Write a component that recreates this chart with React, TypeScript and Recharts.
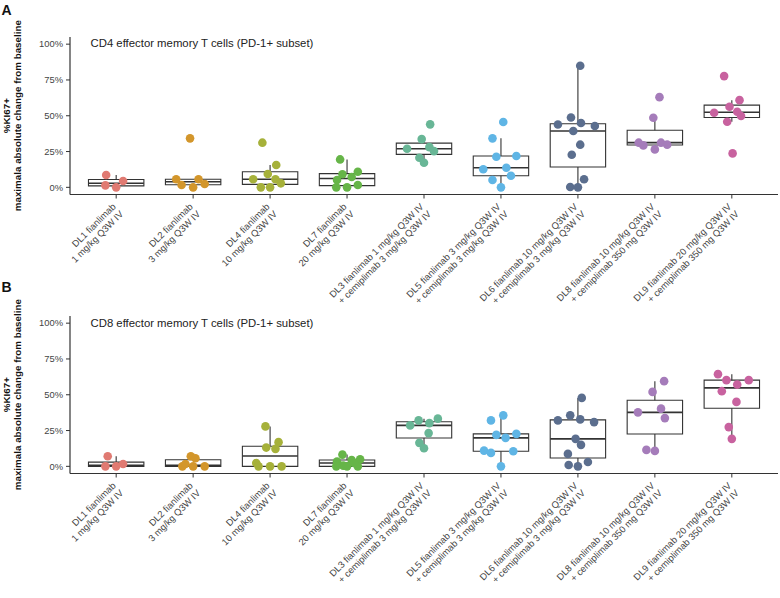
import React from 'react';
import { ComposedChart, Scatter, XAxis, YAxis, ReferenceArea, ReferenceLine } from 'recharts';

const labelLine1 = [
  'DL1 fianlimab', 'DL2 fianlimab', 'DL4 fianlimab', 'DL7 fianlimab',
  'DL3 fianlimab 1 mg/kg Q3W IV', 'DL5 fianlimab 3 mg/kg Q3W IV', 'DL6 fianlimab 10 mg/kg Q3W IV',
  'DL8 fianlimab 10 mg/kg Q3W IV', 'DL9 fianlimab 20 mg/kg Q3W IV',
];
const labelLine2 = [
  '1 mg/kg Q3W IV', '3 mg/kg Q3W IV', '10 mg/kg Q3W IV', '20 mg/kg Q3W IV',
  '+ cemiplimab 3 mg/kg Q3W IV', '+ cemiplimab 3 mg/kg Q3W IV', '+ cemiplimab 3 mg/kg Q3W IV',
  '+ cemiplimab 350 mg Q3W IV', '+ cemiplimab 350 mg Q3W IV',
];
const groupColors = ['#e07a72', '#d3962b', '#a6b13a', '#66b548', '#68b696', '#5fb5e5', '#5b6e8e', '#a57cba', '#c8629f'];

// panel A - CD4 (% values, jitter offsets in category units)
const cd4Values = [
  [8.6, 1.4, 0, 4.4],
  [34.2, 5.6, 1.6, 0, 5.6, 2.3],
  [31.2, 15.6, 9.3, 5.6, 5.6, 2.8, 0, 0],
  [19.5, 9.1, 10.9, 7.2, 5.1, 0, 0, 1.6],
  [44, 33.7, 27.0, 28.1, 25.3, 20.7, 17.2],
  [45.6, 34.2, 21.4, 21.9, 13.7, 12.6, 8.1, 5.1, 0],
  [84.9, 48.8, 43.9, 44.9, 42.8, 39.3, 29.8, 22.8, 5.6, 0.2, 0],
  [63.0, 48.6, 31.2, 29.3, 31.2, 29.8, 26.5],
  [77.7, 60.9, 56.3, 52.1, 52.8, 49.8, 45.8, 23.7],
];
const cd4Jitter = [
  [-0.13, -0.14, 0, 0.09],
  [-0.04, -0.22, -0.15, 0, 0.07, 0.15],
  [-0.1, 0.08, -0.03, -0.22, 0.07, 0.14, -0.12, 0],
  [-0.09, -0.06, 0.14, 0.06, -0.13, -0.14, 0, 0.14],
  [0.08, -0.03, -0.22, 0.07, 0.13, -0.06, 0],
  [0.03, -0.11, -0.06, 0.2, 0.07, -0.23, 0.13, -0.11, 0],
  [0.03, -0.09, -0.26, 0.04, 0.22, -0.06, 0.03, -0.08, 0.08, -0.1, 0],
  [0.06, -0.02, -0.21, -0.15, 0.08, 0.16, 0],
  [-0.1, 0.1, -0.03, -0.23, 0.07, 0.12, -0.06, 0.01],
];

// panel B - CD8
const cd8Values = [
  [7.0, 0, 0, 1.6],
  [7.0, 5.6, 0, 1.6, 0, 0],
  [27.9, 16.9, 12.2, 13.1, 2.3, 0, 0, 0],
  [8.2, 3.3, 0.5, 4.4, 4.9, 0, 0, 0, 2.3],
  [33.3, 32.1, 28.6, 30.2, 23.2, 16.4, 12.6],
  [35.6, 32.1, 22.0, 19.9, 22.7, 11.0, 9.4, 10.5, 0],
  [47.8, 32.1, 35.6, 32.8, 30.9, 19.2, 15.0, 8.7, 0.9, 0, 3.0],
  [59.5, 52.0, 40.3, 37.7, 33.7, 11.5, 10.8],
  [64.4, 60.2, 57.1, 60.2, 52.5, 45.0, 27.4, 19.2],
];
const cd8Jitter = [
  [-0.11, -0.14, 0, 0.09],
  [-0.03, 0.03, -0.14, -0.1, 0, 0.15],
  [-0.06, 0.11, 0.07, -0.05, -0.18, -0.15, 0, 0.15],
  [-0.06, -0.13, -0.05, 0.06, 0.17, -0.14, 0, 0.14, 0.09],
  [0.18, -0.07, -0.18, 0.07, 0.06, -0.06, 0],
  [0.03, -0.13, -0.06, 0.06, 0.2, -0.22, -0.13, 0.16, 0],
  [0.05, -0.26, -0.1, 0.03, 0.21, -0.03, 0.04, -0.13, -0.12, 0, 0.13],
  [0.12, -0.03, 0.08, -0.22, 0.13, -0.11, 0],
  [-0.18, -0.07, 0.07, 0.22, -0.13, 0.06, -0.04, 0],
];

const yTicks = [0, 25, 50, 75, 100];
const FONT = '"Liberation Sans", Arial, Helvetica, sans-serif';
const INK = '#333';

// quantile type 7 like R
const quantile = (s: number[], p: number) => {
  const h = (s.length - 1) * p;
  const lo = Math.floor(h);
  const hi = Math.min(lo + 1, s.length - 1);
  return s[lo] + (h - lo) * (s[hi] - s[lo]);
};

const boxStats = (vals: number[]) => {
  const s = [...vals].sort((a, b) => a - b);
  const q1 = quantile(s, 0.25);
  const med = quantile(s, 0.5);
  const q3 = quantile(s, 0.75);
  const iqr = q3 - q1;
  const inside = s.filter(v => v >= q1 - 1.5 * iqr && v <= q3 + 1.5 * iqr);
  return { q1, med, q3, lo: inside[0], hi: inside[inside.length - 1] };
};

const XTick = (props: any) => {
  const { x, y, payload } = props;
  const i = payload.value - 1;
  return (
    <g transform={`translate(${x},${y}) rotate(-45)`}>
      <text x={-6} y={6.3} textAnchor="end" fontSize={9.4} fill="#444" fontFamily={FONT}>
        <tspan x={-6} y={6.3}>{labelLine1[i]}</tspan>
        <tspan x={-6} y={16.9}>{labelLine2[i]}</tspan>
      </text>
    </g>
  );
};

const BOX_HALF = 0.36;

const Panel: React.FC<{ values: number[][]; jitter: number[][]; top: number }> = ({ values, jitter, top }) => {
  const stats = values.map(boxStats);
  return (
    <div style={{ position: 'absolute', left: 0, top }}>
      <ComposedChart width={780} height={319} margin={{ top: 37, right: 2, bottom: 0, left: 0 }}>
        <XAxis
          type="number"
          dataKey="x"
          domain={[0.4, 9.6]}
          ticks={[1, 2, 3, 4, 5, 6, 7, 8, 9]}
          interval={0}
          height={124.5}
          tickSize={4}
          tickMargin={0}
          tick={<XTick />}
          axisLine={{ stroke: INK, strokeWidth: 1.2 }}
          tickLine={{ stroke: INK }}
          allowDataOverflow
        />
        <YAxis
          type="number"
          dataKey="y"
          domain={[-5, 105]}
          ticks={yTicks}
          width={70}
          tickSize={4}
          tickMargin={3}
          tickFormatter={(v: number) => `${v}%`}
          tick={{ fontSize: 9.4, fill: '#444', fontFamily: FONT }}
          axisLine={{ stroke: INK, strokeWidth: 1.2 }}
          tickLine={{ stroke: INK }}
          allowDataOverflow
        />
        {stats.map((s, g) => (
          <ReferenceLine key={`wl${g}`} segment={[{ x: g + 1, y: s.lo }, { x: g + 1, y: s.q1 }]} stroke={INK} strokeWidth={1.1} ifOverflow="visible" />
        ))}
        {stats.map((s, g) => (
          <ReferenceLine key={`wh${g}`} segment={[{ x: g + 1, y: s.q3 }, { x: g + 1, y: s.hi }]} stroke={INK} strokeWidth={1.1} ifOverflow="visible" />
        ))}
        {stats.map((s, g) => (
          <ReferenceArea key={`b${g}`} x1={g + 1 - BOX_HALF} x2={g + 1 + BOX_HALF} y1={s.q1} y2={s.q3}
            fill="#fff" fillOpacity={1} stroke={INK} strokeWidth={1.1} ifOverflow="visible" />
        ))}
        {stats.map((s, g) => (
          <ReferenceLine key={`m${g}`} segment={[{ x: g + 1 - BOX_HALF, y: s.med }, { x: g + 1 + BOX_HALF, y: s.med }]} stroke={INK} strokeWidth={1.6} ifOverflow="visible" />
        ))}
        {values.map((vals, g) => (
          <Scatter
            key={`s${g}`}
            data={vals.map((v, k) => ({ x: g + 1 + jitter[g][k], y: v }))}
            isAnimationActive={false}
            shape={(p: any) => <circle cx={p.cx} cy={p.cy} r={4.3} fill={groupColors[g]} />}
          />
        ))}
      </ComposedChart>
    </div>
  );
};

const Overlay: React.FC = () => {
  const yTitle = (cy: number) => (
    <g fontFamily={FONT} fontWeight="bold" fontSize={9.8} fill="#111">
      <text transform={`translate(9.5,${cy}) rotate(-90)`} textAnchor="middle">%KI67+</text>
      <text transform={`translate(21,${cy}) rotate(-90)`} textAnchor="middle">maximala absolute change from baseline</text>
    </g>
  );
  return (
    <svg width={780} height={598} style={{ position: 'absolute', left: 0, top: 0, pointerEvents: 'none' }}>
      <text x={1.5} y={15} fontFamily={FONT} fontWeight="bold" fontSize={14} fill="#111">A</text>
      <text x={1.5} y={292} fontFamily={FONT} fontWeight="bold" fontSize={14} fill="#111">B</text>
      {yTitle(115.7)}
      {yTitle(394.7)}
      <text x={90.5} y={47.3} fontFamily={FONT} fontSize={11.35} fill="#222">CD4 effector memory T cells (PD-1+ subset)</text>
      <text x={90.5} y={326.7} fontFamily={FONT} fontSize={11.35} fill="#222">CD8 effector memory T cells (PD-1+ subset)</text>
    </svg>
  );
};

export default function App() {
  return (
    <div style={{ position: 'absolute', left: 0, top: 0, width: 780, height: 598, background: '#fff', overflow: 'hidden' }}>
      <Panel values={cd4Values} jitter={cd4Jitter} top={0} />
      <Panel values={cd8Values} jitter={cd8Jitter} top={279} />
      <Overlay />
    </div>
  );
}
